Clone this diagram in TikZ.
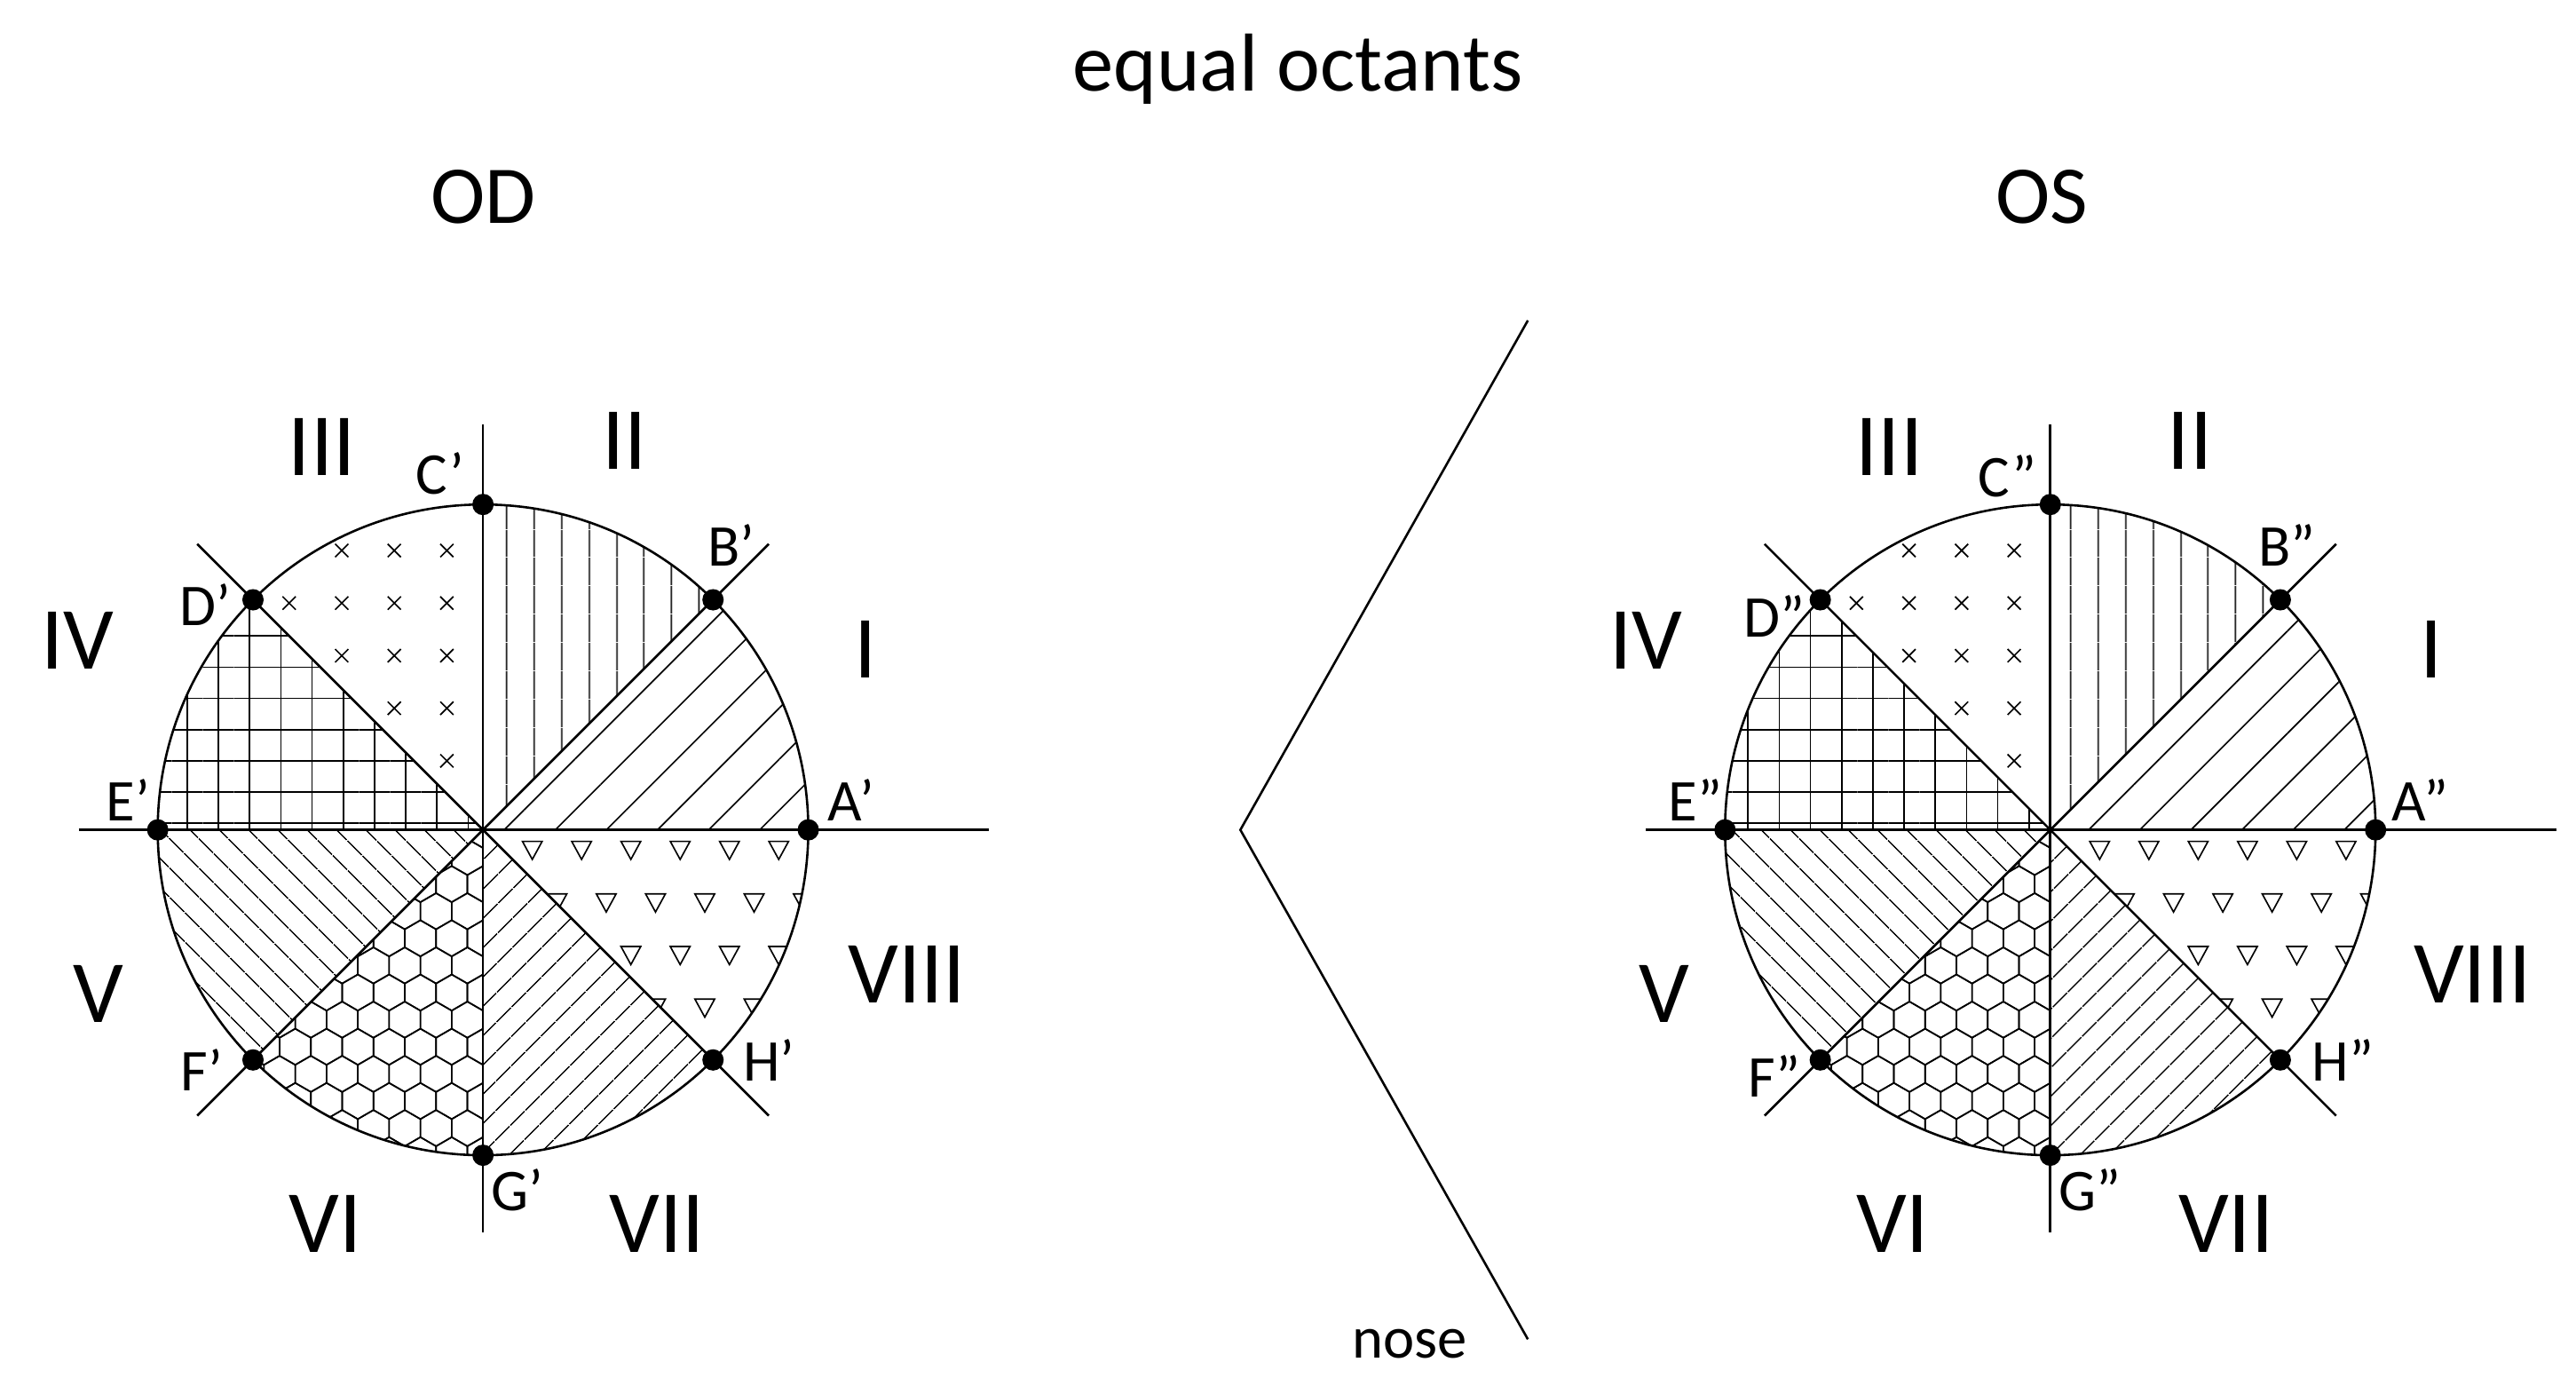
\documentclass[tikz,border=0pt]{standalone}
\usepackage{fontspec}
\setmainfont{Carlito}
\usetikzlibrary{patterns.meta}
\tikzset{
  pt/.style={circle,fill=black,inner sep=0pt,minimum size=13pt},
  lab/.style={font=\fontsize{36}{40}\selectfont},
  roman/.style={font=\fontsize{54}{60}\selectfont},
  head/.style={font=\fontsize{50}{56}\selectfont},
  axis/.style={line width=1.4pt},
  pl/.style={line width=0.9pt},
}
\newcommand{\sector}[2]{(0,0) -- (#1:198) arc (#1:#2:198) -- cycle}
\newcommand{\octdiagram}{%
  \fill[pattern={Lines[angle=45,distance=22pt,line width=0.9pt]}] \sector{0}{45};
  \fill[pattern={Lines[angle=90,distance=17pt,line width=0.9pt]}] \sector{45}{90};
  \begin{scope}\clip \sector{90}{135};
    \foreach \x in {-182,-150,...,0}{\foreach \y in {10,42,...,200}{
      \draw[pl] (\x-4,\y-4)--(\x+4,\y+4) (\x-4,\y+4)--(\x+4,\y-4);}}
  \end{scope}
  \fill[pattern={Hatch[angle=0,distance=19pt,line width=0.9pt]}] \sector{135}{180};
  \fill[pattern={Lines[angle=-45,distance=13pt,line width=0.9pt]}] \sector{180}{225};
  \begin{scope}\clip \sector{225}{270};
    \foreach \j in {-14,...,1}{\foreach \i in {-10,...,1}{
      \pgfmathsetmacro\cx{\i*19.05+mod(abs(\j),2)*9.53}
      \pgfmathsetmacro\cy{\j*16.5}
      \draw[pl] (\cx,\cy) ++(30:11) -- ++(150:11) -- ++(210:11) -- ++(270:11) -- ++(330:11) -- ++(30:11) -- cycle;}}
  \end{scope}
  \fill[pattern={Lines[angle=45,distance=13pt,line width=0.9pt]}] \sector{270}{315};
  \begin{scope}\clip \sector{315}{360};
    \foreach \y [count=\k] in {-12,-44,-76,-108}{\foreach \x in {0,30,...,200}{
      \pgfmathsetmacro\xx{\x+15+mod(\k,2)*15}
      \draw[pl] (\xx-6,\y+5) -- (\xx+6,\y+5) -- (\xx,\y-6) -- cycle;}}
  \end{scope}
  \draw[axis] (-246,0) -- (308,0) (0,247) -- (0,-245);
  \draw[axis] (135:246) -- (-45:246) (45:246) -- (225:246);
  \draw[axis] (0,0) circle (198);
}
\begin{document}
\begin{tikzpicture}[x=1pt,y=1pt]
\useasboundingbox (0,0) rectangle (1568,-843);
\node[head] (title) at (790,-42) {equal octants};
\node[head] (od) at (294,-120) {OD};
\node[head] (os) at (1243,-120) {OS};
\coordinate (n1) at (930,-195); \coordinate (n2) at (755,-505); \coordinate (n3) at (930,-815);
\draw[axis] (n1) -- (n2) -- (n3);
\node[lab] (nose) at (858,-818) {nose};
% left
\begin{scope}[shift={(294,-505)}]
\octdiagram
\foreach \a/\n in {0/A,45/B,90/C,135/D,180/E,225/F,270/G,315/H}{\node[pt] (L\n) at (\a:198) {};}
\end{scope}
\node[lab] at (268,-288) {C'}; \node[lab] at (445,-332) {B'};
\node[lab] at (125,-368) {D'}; \node[lab] at (78,-487) {E'};
\node[lab] at (518,-487) {A'}; \node[lab] at (123,-651) {F'};
\node[lab] at (468,-645) {H'}; \node[lab] at (315,-724) {G'};
\node[roman] at (196,-272) {III}; \node[roman] at (380,-268) {II};
\node[roman] at (527,-395) {I}; \node[roman] at (47,-390) {IV};
\node[roman] at (60,-605) {V}; \node[roman] at (552,-593) {VIII};
\node[roman] at (198,-745) {VI}; \node[roman] at (400,-745) {VII};
% right
\begin{scope}[shift={(1248,-505)}]
\octdiagram
\foreach \a/\n in {0/A,45/B,90/C,135/D,180/E,225/F,270/G,315/H}{\node[pt] (R\n) at (\a:198) {};}
\end{scope}
\node[lab] at (1222,-290) {C''}; \node[lab] at (1392,-332) {B''};
\node[lab] at (1080,-375) {D''}; \node[lab] at (1032,-487) {E''};
\node[lab] at (1473,-487) {A''}; \node[lab] at (1080,-655) {F''};
\node[lab] at (1426,-645) {H''}; \node[lab] at (1272,-724) {G''};
\node[roman] at (1150,-272) {III}; \node[roman] at (1333,-268) {II};
\node[roman] at (1480,-395) {I}; \node[roman] at (1002,-390) {IV};
\node[roman] at (1013,-605) {V}; \node[roman] at (1505,-593) {VIII};
\node[roman] at (1152,-745) {VI}; \node[roman] at (1355,-745) {VII};
\end{tikzpicture}
\end{document}
